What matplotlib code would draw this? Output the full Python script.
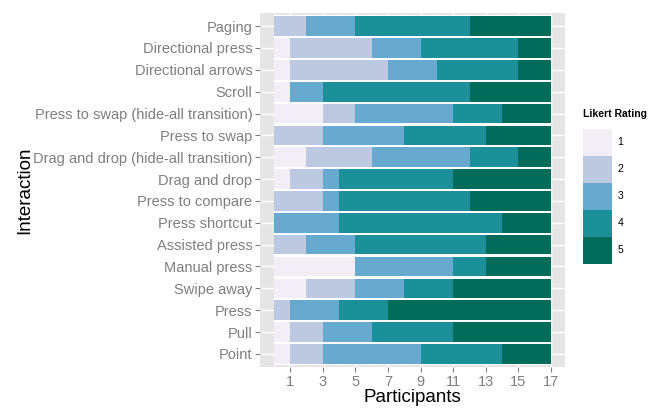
import numpy as np
import matplotlib
matplotlib.use("Agg")
import matplotlib.pyplot as plt
from matplotlib.patches import Patch

plt.rcParams['font.family'] = ['Liberation Sans', 'DejaVu Sans']

interactions = ["Paging", "Directional press", "Directional arrows", "Scroll",
                "Press to swap (hide-all transition)", "Press to swap",
                "Drag and drop (hide-all transition)", "Drag and drop",
                "Press to compare", "Press shortcut", "Assisted press",
                "Manual press", "Swipe away", "Press", "Pull", "Point"]

# counts of participants per Likert rating (1..5)
r1 = [0, 1, 1, 1, 3, 0, 2, 1, 0, 0, 0, 5, 2, 0, 1, 1]
r2 = [2, 5, 6, 0, 2, 3, 4, 2, 3, 0, 2, 0, 3, 1, 2, 2]
r3 = [3, 3, 3, 2, 6, 5, 6, 1, 1, 4, 3, 6, 3, 3, 3, 6]
r4 = [7, 6, 5, 9, 3, 5, 3, 7, 8, 10, 8, 2, 3, 3, 5, 5]
r5 = [5, 2, 2, 5, 3, 4, 2, 6, 5, 3, 4, 4, 6, 10, 6, 3]

ratings = ["1", "2", "3", "4", "5"]
colors = ["#f3eef6", "#bdc9e1", "#67a9cf", "#1c9099", "#016c59"]

counts = np.array([r1, r2, r3, r4, r5])
totals = counts.sum(axis=0)
y = np.arange(len(interactions))

fig = plt.figure(figsize=(6.69, 4.12), dpi=100)
ax = fig.add_axes([0.3886, 0.1092, 0.4559, 0.8592])
ax.set_facecolor("#e5e5e5")

# white rows behind the bars give the thin gaps between bars
ax.barh(y, totals, height=1.0, color="white", zorder=2)
left = np.zeros(len(interactions))
for k in range(len(ratings)):
    ax.barh(y, counts[k], left=left, height=0.9, color=colors[k], zorder=3)
    left += counts[k]

ax.set_xlim(-0.85, 17.85)
ax.set_ylim(len(interactions) - 0.4, -0.6)
ax.set_xticks(np.arange(1, 18, 2))
ax.set_xticks(np.arange(0, 18, 2), minor=True)
ax.set_yticks(y)
ax.set_yticklabels(interactions)
ax.grid(which="major", axis="x", color="white", lw=1.0, zorder=1)
ax.grid(which="minor", axis="x", color="#f2f2f2", lw=0.6, zorder=1)
ax.grid(which="major", axis="y", color="white", lw=1.0, zorder=1)
ax.set_axisbelow(True)
for s in ax.spines.values():
    s.set_visible(False)
ax.tick_params(axis="both", which="major", colors="#7f7f7f", labelcolor="#7f7f7f",
               labelsize=10.5, length=3.5, width=0.8, pad=2)
ax.tick_params(axis="both", which="minor", length=0)

ax.set_xlabel("Participants", fontsize=13.5, labelpad=0)
ax.set_ylabel("Interaction", fontsize=13.5, labelpad=0)

handles = [Patch(facecolor=c, edgecolor="none") for c in colors]
leg = fig.legend(handles, ratings, title="Likert Rating", loc="upper left",
                 bbox_to_anchor=(0.8714, 0.735), frameon=False, fontsize=7.5,
                 title_fontproperties={"weight": "bold", "size": 7.5},
                 handlelength=2.8, handleheight=3.6, labelspacing=0,
                 handletextpad=0.5, borderpad=0, borderaxespad=0)
leg._legend_box.align = "left"
leg._legend_box.sep = 7

fig.savefig("out.png", dpi=100)
